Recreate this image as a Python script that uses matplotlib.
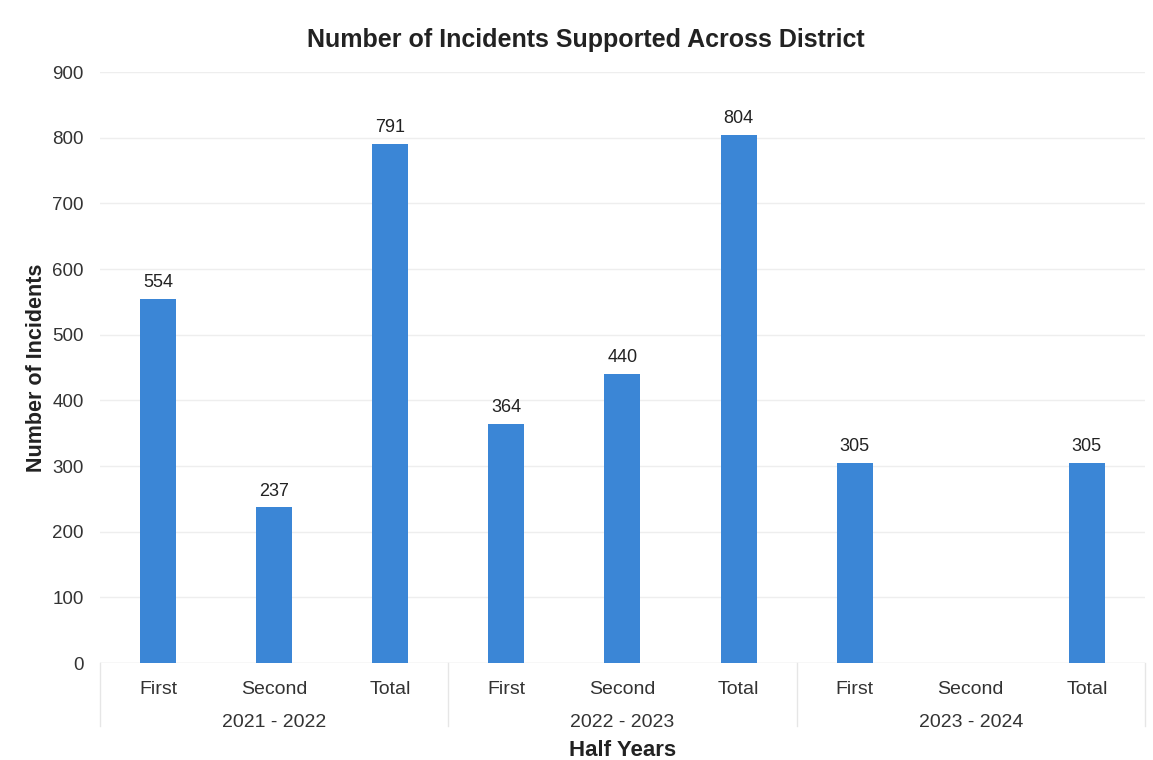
import numpy as np
import matplotlib.pyplot as plt

plt.rcParams['font.family'] = ['Liberation Sans', 'DejaVu Sans']

# data
years = ['2021 - 2022', '2022 - 2023', '2023 - 2024']
halves = ['First', 'Second', 'Total']
incidents = [554, 237, 791, 364, 440, 804, 305, np.nan, 305]

fig = plt.figure(figsize=(11.53, 7.6), dpi=100)
ax = fig.add_axes([0.0867, 0.1276, 0.9063, 0.7774])

x = np.arange(len(incidents))
ax.bar(x, incidents, width=0.31, color='#3b86d6', zorder=3)
for xi, v in zip(x, incidents):
    if not np.isnan(v):
        ax.text(xi, v + 12, f'{int(v)}', ha='center', va='bottom', fontsize=13, color='#222222')

ax.set_xlim(-0.5, len(incidents) - 0.5)
ax.set_ylim(0, 900)
ax.set_yticks(range(0, 901, 100))
ax.tick_params(axis='y', length=0, labelsize=13.5, pad=11.5, colors='#333333')
ax.grid(axis='y', color='#eeeeee', linewidth=1, zorder=0)
for s in ax.spines.values():
    s.set_visible(False)
ax.axhline(0, color='#e8e8e8', linewidth=1, zorder=2)

# two level x labels
ax.set_xticks(x)
ax.set_xticklabels(halves * len(years), fontsize=14, color='#333333')
ax.tick_params(axis='x', length=0, pad=13)
for i, y in enumerate(years):
    ax.text(i * 3 + 1, -0.101, y, transform=ax.get_xaxis_transform(), ha='center', va='center',
            fontsize=14, color='#333333')
for b in range(len(years) + 1):
    ax.plot([b * 3 - 0.5] * 2, [0, -0.107], transform=ax.get_xaxis_transform(), color='#e6e6e6',
            linewidth=1, clip_on=False)

ax.text(0.5, -0.148, 'Half Years', transform=ax.transAxes, ha='center', va='center',
        fontsize=16, fontweight='bold', color='#222222')
ax.set_ylabel('Number of Incidents', fontsize=15.5, fontweight='bold', color='#222222', labelpad=4)
fig.text(0.508, 0.947, 'Number of Incidents Supported Across District', ha='center', va='center',
         fontsize=18, fontweight='bold', color='#222222')

fig.savefig('out.png', dpi=100)
